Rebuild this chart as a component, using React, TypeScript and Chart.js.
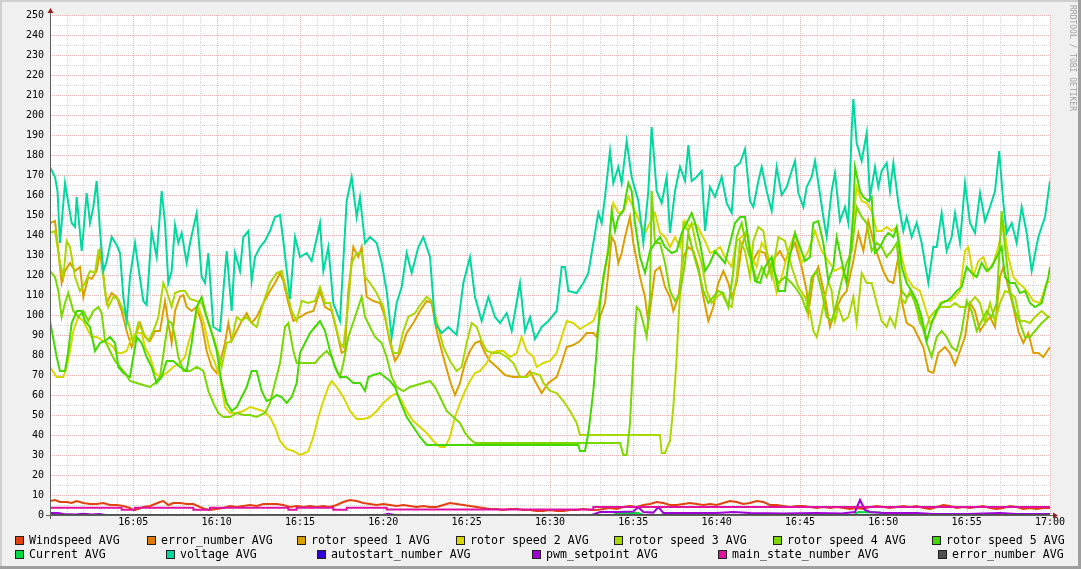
import React, { useEffect, useRef } from "react";
import { Chart, registerables } from "chart.js";
Chart.register(...registerables);

type Pt = [number, number];

// x values are minutes after 16:00
const timeTickLabels = ["", "16:05", "16:10", "16:15", "16:20", "16:25", "16:30", "16:35", "16:40", "16:45", "16:50", "16:55", "17:00"];

const seriesNames = [
  "Windspeed AVG", "error_number AVG", "rotor speed 1 AVG", "rotor speed 2 AVG", "rotor speed 3 AVG",
  "rotor speed 4 AVG", "rotor speed 5 AVG", "Current AVG", "voltage AVG", "autostart_number AVG",
  "pwm_setpoint AVG", "main_state_number AVG", "error_number AVG",
];
const seriesColors = [
  "#e2400e", "#e07800", "#dba000", "#d8d800", "#a8d800",
  "#7ad800", "#44d800", "#00d844", "#00d8a0", "#3300d8",
  "#a000d8", "#e010a0", "#505050",
];

const windspeed: Pt[] = [[0,7],[0.3,7.5],[0.6,6.5],[1,6.5],[1.3,6],[1.6,7],[2,6],[2.4,5.5],[2.8,5.5],[3.2,6],[3.6,5],[4,5],[4.4,4.5],[4.8,3.5],[5,2.5],[5.3,3],[5.6,4],[6,4.5],[6.3,5.5],[6.6,6.5],[6.8,7],[7.1,5],[7.4,6],[7.8,6],[8.2,5.5],[8.6,5.5],[9,4],[9.3,3],[9.6,2.5],[10,3],[10.4,3.5],[10.8,4.5],[11.2,4],[11.6,4.5],[12,5],[12.4,4.5],[12.8,5.5],[13.2,5.5],[13.6,5.5],[14,5],[14.4,4],[14.8,4.5],[15.2,4],[15.6,4.5],[16,4],[16.4,4.5],[16.8,4],[17.2,5],[17.6,6.5],[18,7.5],[18.4,7],[18.8,6],[19.2,5.5],[19.6,5],[20,5.5],[20.4,5],[20.8,4.5],[21.2,5],[21.6,4.5],[22,4],[22.4,4.5],[22.8,4],[23.2,4],[23.6,5],[24,6],[24.4,5.5],[24.8,5],[25.2,4.5],[25.6,4],[26,3.5],[26.4,3],[26.8,3],[27.2,2.5],[27.6,3],[28,3],[28.4,2.5],[28.8,2.5],[29.2,2],[29.6,2],[30,2.5],[30.4,2],[30.8,2],[31.2,2.5],[31.6,2.5],[32,3],[32.4,2.5],[32.8,2.5],[33.2,3],[33.6,3.5],[34,3],[34.4,4],[34.8,4.5],[35.2,4],[35.6,5],[36,5.5],[36.4,6.5],[36.8,6],[37.2,5],[37.6,5],[38,5.5],[38.4,6],[38.8,5.5],[39.2,5],[39.6,5.5],[40,5],[40.4,6],[40.8,7],[41.2,6.5],[41.6,5.5],[42,6],[42.4,7],[42.8,6.5],[43.2,5],[43.6,5],[44,4.5],[44.4,4],[44.8,4.5],[45.2,4.5],[45.6,4],[46,3.5],[46.4,4],[46.8,3.5],[47.2,4],[47.6,3.5],[48,3],[48.4,3.5],[48.8,3],[49.2,4],[49.6,4.5],[50,4],[50.4,3.5],[50.8,4],[51.2,4.5],[51.6,4],[52,4.5],[52.4,3.5],[52.8,3],[53.2,4],[53.6,5],[54,4.5],[54.4,3.5],[54.8,4],[55.2,3.5],[55.6,4],[56,4.5],[56.4,3.5],[56.8,3],[57.2,3.5],[57.6,4.5],[58,4],[58.4,3],[58.8,3.5],[59.2,3],[59.6,3.5],[60,3.5]];

const errorNumberA: Pt[] = [[0,0],[60,0]];

const rotor1: Pt[] = [[0,146],[0.3,147],[0.5,132],[0.7,116],[0.9,122],[1.2,126],[1.5,122],[1.8,124],[2,109],[2.3,119],[2.5,118],[2.8,122],[3,132],[3.2,119],[3.4,106],[3.7,111],[4,109],[4.3,102],[4.6,92],[4.9,84],[5.1,89],[5.4,96],[5.7,89],[6,87],[6.3,92],[6.6,92],[6.9,107],[7.1,96],[7.3,86],[7.5,102],[7.8,109],[8,110],[8.2,104],[8.5,102],[8.8,104],[9.1,96],[9.4,82],[9.7,74],[10,71],[10.2,76],[10.5,86],[10.7,96],[10.9,87],[11.2,92],[11.5,97],[11.8,101],[12.1,96],[12.4,99],[12.8,106],[13.2,112],[13.5,116],[13.8,121],[14,117],[14.3,106],[14.6,97],[15,99],[15.4,101],[15.8,102],[16.2,112],[16.5,104],[16.9,102],[17.2,92],[17.5,81],[17.7,82],[17.9,112],[18.2,134],[18.5,129],[18.7,134],[19,109],[19.4,107],[19.8,106],[20.1,99],[20.4,86],[20.7,77],[21,81],[21.4,91],[21.8,96],[22.2,102],[22.6,107],[22.9,106],[23.2,92],[23.6,79],[24,67],[24.3,60],[24.6,66],[24.9,76],[25.2,82],[25.5,86],[25.8,87],[26.1,81],[26.4,77],[26.8,74],[27.3,70],[27.8,69],[28.2,69],[28.5,69],[28.8,72],[29.1,67],[29.5,61],[29.9,66],[30.4,69],[30.7,76],[31,84],[31.4,85],[31.8,87],[32.2,91],[32.6,91],[32.8,89],[33,99],[33.3,106],[33.5,121],[33.7,139],[33.9,136],[34.1,126],[34.3,131],[34.5,139],[34.8,149],[35,136],[35.4,119],[35.7,109],[35.9,96],[36.1,109],[36.3,122],[36.6,124],[36.9,114],[37.2,109],[37.4,102],[37.7,109],[38,129],[38.3,134],[38.6,132],[38.9,124],[39.2,109],[39.5,97],[39.8,104],[40.1,116],[40.4,122],[40.7,116],[40.9,109],[41.2,116],[41.5,134],[41.8,142],[42.1,126],[42.5,132],[42.9,131],[43.2,122],[43.5,129],[43.8,132],[44.1,127],[44.4,131],[44.7,136],[45.1,124],[45.4,112],[45.5,101],[45.8,119],[46.1,124],[46.5,109],[46.8,94],[47.1,102],[47.5,109],[47.8,112],[48.2,127],[48.5,141],[48.8,132],[49.1,147],[49.4,137],[49.7,129],[50,122],[50.3,117],[50.6,116],[50.9,129],[51.1,107],[51.4,96],[51.8,94],[52.1,89],[52.4,84],[52.7,72],[53,71],[53.3,81],[53.7,84],[54,81],[54.3,75],[54.6,82],[54.9,89],[55.2,106],[55.5,102],[55.8,92],[56.1,96],[56.4,99],[56.7,94],[57,119],[57.2,124],[57.5,114],[57.8,104],[58.1,92],[58.4,86],[58.7,91],[59,81],[59.3,81],[59.6,79],[60,84]];

const rotor2: Pt[] = [[0,74],[0.4,69],[0.8,69],[1,74],[1.2,82],[1.4,92],[1.7,99],[2,97],[2.3,92],[2.5,89],[2.8,89],[3.2,87],[3.5,86],[3.8,84],[4,81],[4.3,81],[4.6,82],[4.9,89],[5.2,91],[5.5,91],[5.7,84],[6,79],[6.3,71],[6.6,69],[7,71],[7.4,74],[7.8,76],[8.1,79],[8.3,86],[8.6,94],[8.9,104],[9.2,97],[9.6,82],[9.9,76],[10.2,69],[10.5,54],[10.8,51],[11.2,51],[11.6,52],[12,54],[12.4,53],[12.8,52],[13.2,49],[13.5,44],[13.8,37],[14.2,33],[14.6,32],[15,30],[15.3,31],[15.5,32],[15.8,39],[16.1,49],[16.4,57],[16.7,64],[16.9,67],[17.2,64],[17.6,59],[18,52],[18.4,48],[18.8,48],[19.2,49],[19.6,52],[20,56],[20.4,59],[20.8,61],[21.1,57],[21.4,52],[21.8,47],[22.2,44],[22.6,41],[23,37],[23.4,34],[23.7,34],[24,39],[24.3,49],[24.6,56],[24.9,62],[25.2,67],[25.5,71],[25.8,72],[26.2,76],[26.5,81],[26.8,82],[27.2,82],[27.6,79],[28,81],[28.3,89],[28.6,82],[29,79],[29.2,74],[29.6,76],[30,77],[30.4,81],[30.7,89],[31,97],[31.4,96],[31.8,93],[32.2,95],[32.6,97],[32.9,104],[33.2,117],[33.5,134],[33.8,156],[34.1,151],[34.4,152],[34.7,159],[35,154],[35.4,146],[35.7,141],[36,146],[36.3,151],[36.6,141],[36.9,139],[37.2,134],[37.5,139],[37.8,134],[38.1,147],[38.4,144],[38.7,146],[39,142],[39.3,137],[39.6,131],[39.9,132],[40.2,134],[40.5,129],[40.9,124],[41.2,137],[41.5,139],[41.8,142],[42.1,129],[42.4,124],[42.7,136],[43,132],[43.3,122],[43.6,111],[43.9,119],[44.3,132],[44.7,141],[45.1,126],[45.5,132],[45.9,142],[46.3,132],[46.7,127],[47.1,122],[47.5,124],[47.8,116],[48.1,139],[48.4,164],[48.7,157],[49,156],[49.3,152],[49.6,142],[49.9,142],[50.2,144],[50.5,142],[50.8,144],[51.1,129],[51.4,119],[51.8,114],[52.2,112],[52.5,104],[52.8,96],[53.1,99],[53.4,106],[53.7,107],[54,107],[54.3,109],[54.6,112],[54.9,132],[55.1,134],[55.4,119],[55.7,127],[56,129],[56.3,122],[56.6,126],[56.9,134],[57.2,146],[57.5,129],[57.8,119],[58.1,116],[58.4,114],[58.7,111],[59,107],[59.4,106],[59.8,116],[60,117]];

const rotor3: Pt[] = [[0,141],[0.3,142],[0.6,126],[0.8,119],[1,137],[1.2,134],[1.5,119],[1.8,112],[2.1,116],[2.4,122],[2.7,121],[2.9,132],[3.1,129],[3.3,112],[3.5,104],[3.8,109],[4.1,108],[4.4,102],[4.7,96],[5,86],[5.3,96],[5.6,91],[5.9,87],[6.2,92],[6.5,99],[6.8,116],[7,112],[7.3,104],[7.5,111],[7.8,112],[8.1,112],[8.4,108],[8.8,107],[9.1,106],[9.4,99],[9.8,89],[10.1,81],[10.3,74],[10.6,86],[10.9,87],[11.2,99],[11.5,97],[11.8,99],[12.1,96],[12.4,94],[12.8,106],[13.2,116],[13.6,121],[13.9,122],[14.2,112],[14.5,102],[14.8,97],[15.1,107],[15.5,106],[15.9,107],[16.2,114],[16.5,106],[16.8,106],[17.1,96],[17.4,86],[17.6,84],[17.9,106],[18.1,126],[18.4,131],[18.7,131],[18.9,119],[19.2,116],[19.6,111],[20,104],[20.3,91],[20.6,81],[20.9,81],[21.2,92],[21.5,99],[21.9,101],[22.3,106],[22.6,109],[22.9,107],[23.2,97],[23.6,84],[24,77],[24.4,72],[24.7,74],[25,86],[25.3,96],[25.6,94],[25.9,87],[26.2,82],[26.6,81],[27,81],[27.4,79],[27.8,76],[28.2,69],[28.6,69],[29,71],[29.4,70],[29.6,66],[30,62],[30.4,61],[30.8,57],[31.2,52],[31.6,46],[31.8,40],[36.6,40],[36.7,31],[36.9,31],[37.2,37],[37.4,54],[37.6,79],[37.7,96],[37.9,124],[38,146],[38.3,142],[38.5,146],[38.8,134],[39.1,126],[39.4,112],[39.7,106],[40,109],[40.3,111],[40.6,106],[40.9,104],[41.2,119],[41.4,137],[41.7,132],[42,119],[42.2,137],[42.5,144],[42.8,142],[43,132],[43.3,119],[43.7,139],[44.1,137],[44.5,124],[44.9,114],[45.3,109],[45.6,102],[45.8,92],[46,89],[46.2,96],[46.5,109],[46.7,117],[46.9,112],[47.1,97],[47.3,104],[47.6,97],[47.9,99],[48.2,109],[48.4,96],[48.7,121],[49,116],[49.3,116],[49.6,106],[49.9,97],[50.2,94],[50.4,99],[50.7,94],[51,109],[51.3,106],[51.6,112],[51.9,106],[52.2,96],[52.5,92],[52.8,99],[53.1,102],[53.4,104],[53.7,104],[54,104],[54.3,106],[54.6,104],[54.9,104],[55.2,106],[55.5,109],[55.8,106],[56.1,96],[56.4,106],[56.7,97],[57,106],[57.3,112],[57.6,111],[57.9,109],[58.2,97],[58.5,97],[58.8,96],[59.1,99],[59.5,102],[59.9,99],[60,99]];

const rotor4: Pt[] = [[0,122],[0.3,119],[0.5,112],[0.7,99],[0.9,106],[1.1,111],[1.4,102],[1.7,99],[2,102],[2.3,97],[2.6,102],[2.9,104],[3.1,101],[3.3,87],[3.6,82],[3.9,77],[4.2,74],[4.5,71],[4.8,67],[5.2,66],[5.6,65],[6,64],[6.3,66],[6.6,69],[6.9,86],[7.1,97],[7.3,96],[7.5,89],[7.7,79],[8,72],[8.4,72],[8.8,74],[9.2,72],[9.5,62],[9.8,56],[10.1,51],[10.4,49],[10.8,49],[11.2,51],[11.6,50],[12,50],[12.4,49],[12.9,51],[13.2,56],[13.5,66],[13.8,76],[14.1,94],[14.3,96],[14.6,82],[14.8,76],[15.1,76],[15.5,76],[15.9,76],[16.2,79],[16.6,82],[16.9,79],[17.2,72],[17.4,69],[17.6,76],[17.9,89],[18.3,99],[18.7,109],[18.9,99],[19.2,94],[19.5,89],[19.9,86],[20.2,79],[20.5,69],[20.8,64],[21.2,62],[21.6,64],[22,65],[22.4,66],[22.8,67],[23.1,64],[23.4,59],[23.8,52],[24.2,49],[24.6,46],[24.9,41],[25.2,38],[25.5,36],[34.2,36],[34.4,30],[34.6,30],[34.8,46],[35,79],[35.2,104],[35.4,102],[35.6,96],[35.8,89],[36,109],[36.1,162],[36.3,136],[36.6,136],[36.9,126],[37.2,112],[37.5,107],[37.8,111],[38.1,126],[38.3,141],[38.6,131],[38.9,122],[39.2,112],[39.5,106],[39.8,109],[40.1,112],[40.4,111],[40.7,104],[41,122],[41.2,139],[41.5,146],[41.8,134],[42.1,126],[42.4,117],[42.7,124],[43,119],[43.3,126],[43.7,116],[44.1,119],[44.5,116],[44.7,114],[45.1,109],[45.4,102],[45.7,119],[46,122],[46.3,112],[46.6,99],[46.9,97],[47.2,106],[47.5,117],[47.8,126],[48.1,132],[48.4,154],[48.7,149],[49,146],[49.3,132],[49.6,136],[49.9,134],[50.2,129],[50.5,132],[50.8,136],[51.1,112],[51.4,109],[51.7,111],[52,104],[52.3,96],[52.6,86],[52.9,79],[53.2,89],[53.5,92],[53.8,89],[54.1,84],[54.4,82],[54.7,92],[55,107],[55.3,102],[55.6,92],[55.9,97],[56.2,102],[56.5,99],[56.8,106],[57.1,152],[57.3,134],[57.6,112],[57.9,102],[58.2,96],[58.5,89],[58.8,89],[59.1,92],[59.5,96],[59.9,99],[60,99]];

const rotor5: Pt[] = [[0,97],[0.4,79],[0.6,72],[0.9,72],[1.1,82],[1.3,96],[1.6,102],[1.9,102],[2.1,97],[2.4,94],[2.7,82],[3,86],[3.3,87],[3.6,89],[3.9,86],[4.1,74],[4.4,71],[4.8,69],[5,79],[5.2,89],[5.5,86],[5.8,79],[6.1,74],[6.4,66],[6.7,69],[7,77],[7.4,77],[7.8,74],[8.2,72],[8.5,86],[8.8,104],[9.1,109],[9.4,99],[9.7,91],[10,82],[10.3,66],[10.6,56],[10.9,52],[11.2,54],[11.5,59],[11.8,64],[12.1,72],[12.4,72],[12.7,62],[13,57],[13.3,58],[13.6,60],[13.9,59],[14.2,56],[14.5,59],[14.8,66],[15,81],[15.3,86],[15.6,91],[15.9,94],[16.2,97],[16.5,92],[16.8,82],[17.1,74],[17.4,69],[17.8,69],[18.2,66],[18.6,66],[18.9,62],[19.1,69],[19.4,70],[19.8,71],[20.1,69],[20.4,67],[20.7,64],[21,57],[21.4,49],[21.8,44],[22.2,39],[22.6,35],[31.7,35],[31.8,32],[32.1,32],[32.3,41],[32.6,62],[32.8,82],[33,106],[33.2,119],[33.5,132],[33.7,152],[33.9,142],[34.1,149],[34.4,152],[34.7,166],[34.9,162],[35.1,146],[35.4,129],[35.7,121],[36,132],[36.3,136],[36.6,139],[36.9,134],[37.3,131],[37.6,132],[37.9,141],[38.2,146],[38.5,151],[38.7,146],[39,136],[39.3,122],[39.6,126],[39.9,132],[40.2,129],[40.5,126],[40.8,136],[41.1,146],[41.4,149],[41.7,149],[42,132],[42.3,117],[42.6,116],[42.9,124],[43.3,129],[43.7,112],[44.1,112],[44.3,126],[44.7,141],[45,134],[45.3,127],[45.6,129],[45.8,146],[46.1,147],[46.4,136],[46.7,117],[47,124],[47.2,139],[47.5,127],[47.8,116],[48,129],[48.2,152],[48.3,174],[48.6,162],[48.8,159],[49.1,157],[49.3,159],[49.5,131],[49.8,134],[50.1,139],[50.3,141],[50.6,139],[50.8,144],[51.1,124],[51.4,116],[51.7,112],[52,107],[52.3,99],[52.6,87],[52.9,96],[53.2,102],[53.5,106],[53.8,107],[54.1,109],[54.4,112],[54.7,114],[55,124],[55.3,121],[55.6,119],[55.9,126],[56.2,122],[56.5,124],[56.8,129],[57.1,134],[57.3,119],[57.6,116],[57.9,116],[58.2,111],[58.5,112],[58.8,106],[59.1,104],[59.5,106],[59.9,119],[60,124]];

const current: Pt[] = [[0,0],[33.8,0],[34.1,1],[35.3,1],[35.6,0],[48.2,0],[48.5,1.5],[49.8,1.2],[50.2,0],[56.8,0],[57,0.5],[57.3,0],[60,0]];

const voltage: Pt[] = [[0,174],[0.3,169],[0.45,162],[0.6,136],[0.9,166],[1.1,156],[1.3,146],[1.5,144],[1.6,159],[1.9,132],[2,141],[2.2,161],[2.4,146],[2.6,154],[2.8,167],[3,142],[3.2,122],[3.4,127],[3.7,139],[4,135],[4.2,131],[4.4,109],[4.6,97],[4.8,119],[5.1,136],[5.3,124],[5.6,107],[5.8,105],[6.1,142],[6.4,129],[6.7,162],[6.9,146],[7.1,116],[7.3,122],[7.5,145],[7.7,136],[7.9,141],[8.2,126],[8.4,136],[8.8,151],[9.1,119],[9.3,116],[9.5,131],[9.8,94],[10.2,92],[10.4,112],[10.6,132],[10.9,102],[11.1,131],[11.4,122],[11.6,139],[11.9,142],[12.1,117],[12.3,129],[12.6,134],[12.9,137],[13.2,142],[13.5,149],[13.8,150],[14,137],[14.4,108],[14.7,139],[15,129],[15.4,131],[15.7,127],[16.2,146],[16.4,122],[16.7,134],[17,106],[17.4,97],[17.8,157],[18.1,169],[18.4,149],[18.6,159],[18.9,136],[19.2,139],[19.6,136],[19.9,126],[20.2,112],[20.5,89],[20.8,106],[21.1,114],[21.4,131],[21.7,121],[22.1,134],[22.4,139],[22.8,129],[23.1,96],[23.5,91],[23.9,94],[24.4,90],[24.8,116],[25.2,129],[25.5,109],[25.9,97],[26.3,109],[26.7,99],[27,96],[27.4,101],[27.7,92],[28.2,116],[28.5,92],[28.8,99],[29.1,88],[29.5,94],[29.9,97],[30.4,102],[30.7,124],[30.9,124],[31.1,112],[31.6,111],[32,116],[32.3,121],[32.6,136],[32.9,151],[33.1,146],[33.3,159],[33.6,182],[33.8,166],[34.1,174],[34.3,166],[34.6,187],[34.9,169],[35.3,157],[35.6,136],[35.9,162],[36.1,194],[36.4,162],[36.7,156],[37,169],[37.2,141],[37.5,162],[37.8,174],[38.1,167],[38.3,185],[38.5,167],[38.8,169],[39.1,172],[39.3,142],[39.6,164],[39.9,159],[40.3,169],[40.6,156],[40.9,151],[41.1,174],[41.4,176],[41.7,183],[42,157],[42.2,154],[42.5,167],[42.7,174],[43,162],[43.3,152],[43.6,174],[43.9,160],[44.2,164],[44.5,172],[44.7,177],[44.9,161],[45.2,154],[45.4,164],[45.7,169],[45.9,177],[46.1,166],[46.4,149],[46.6,139],[46.9,162],[47.1,171],[47.4,147],[47.7,154],[47.9,146],[48.1,192],[48.2,208],[48.4,186],[48.7,177],[49,191],[49.2,159],[49.5,174],[49.7,164],[49.9,172],[50.2,176],[50.4,162],[50.6,176],[50.9,156],[51.2,142],[51.4,149],[51.7,139],[52,146],[52.3,136],[52.7,116],[53,134],[53.2,134],[53.5,151],[53.8,132],[54.1,139],[54.3,151],[54.6,136],[54.9,166],[55.2,146],[55.5,141],[55.8,161],[56.1,147],[56.4,154],[56.7,162],[56.95,182],[57.2,156],[57.4,141],[57.7,146],[58,136],[58.3,154],[58.6,141],[58.9,122],[59.3,139],[59.7,149],[60,167]];

const autostart: Pt[] = [[0,0],[60,0]];

const pwmSetpoint: Pt[] = [[0,1],[0.5,1],[0.8,0.5],[1.5,0.3],[2,0.6],[2.5,0.2],[3,0.5],[3.3,0],[20,0],[20.3,0.6],[20.7,0],[32.5,0],[33,1.5],[34,1.5],[35,1.8],[35.3,4],[35.6,1.5],[36.2,1.2],[36.5,4],[36.8,1],[38,1],[40,1],[41,1.5],[42,1],[44,0.8],[46,1],[47.5,0.8],[48.3,1.5],[48.6,7.5],[48.9,2.5],[49.2,1.5],[50,1],[52,1],[53,0.5],[55,0.5],[57,1],[58,0.5],[60,0.5]];

const mainState: Pt[] = [[0,3.6],[4.3,3.6],[4.3,2.6],[5.1,2.6],[5.1,3.6],[8.6,3.6],[8.6,2.6],[9.6,2.6],[9.6,3.6],[14.3,3.6],[14.3,2.6],[14.8,2.6],[14.8,3.6],[17,3.6],[17,2.6],[17.8,2.6],[17.8,3.6],[20.2,3.6],[20.2,2.8],[32.6,2.8],[32.6,4],[60,4]];

const errorNumberB: Pt[] = [[0,0],[60,0]];

const seriesData: Pt[][] = [windspeed, errorNumberA, rotor1, rotor2, rotor3, rotor4, rotor5, current, voltage, autostart, pwmSetpoint, mainState, errorNumberB];

// legend layout (pixel positions of swatches)
const legendRow1X = [15, 147, 297, 456, 614, 773, 932];
const legendRow2X = [15, 166, 317, 532, 718, 938];

const MONO = "'DejaVu Sans Mono', monospace";

const rrdPlugin = {
  id: "rrdFrame",
  beforeDraw(chart: any) {
    const { ctx, width, height, chartArea: a } = chart;
    ctx.save();
    ctx.fillStyle = "#f0f0f0";
    ctx.fillRect(0, 0, width, height);
    ctx.fillStyle = "#cfcfcf";
    ctx.fillRect(0, 0, width, 2);
    ctx.fillRect(0, 0, 2, height);
    ctx.fillStyle = "#9e9e9e";
    ctx.fillRect(width - 3, 0, 3, height);
    ctx.fillRect(0, height - 3, width, 3);
    ctx.fillStyle = "#ffffff";
    ctx.fillRect(a.left, a.top, a.right - a.left, a.bottom - a.top);
    ctx.restore();
  },
  beforeDatasetsDraw(chart: any) {
    const { ctx, chartArea: a, scales } = chart;
    const xs = scales.x, ys = scales.y;
    ctx.save();
    ctx.lineWidth = 1;
    ctx.setLineDash([1, 1]);
    for (let v = 5; v <= 250; v += 5) {
      const y = Math.round(ys.getPixelForValue(v)) + 0.5;
      ctx.strokeStyle = v % 10 === 0 ? "#ecb2b2" : "#d6d6d6";
      ctx.beginPath();
      ctx.moveTo(a.left, y);
      ctx.lineTo(a.right, y);
      ctx.stroke();
    }
    for (let m = 1; m <= 60; m += 1) {
      const x = Math.round(xs.getPixelForValue(m)) + 0.5;
      ctx.strokeStyle = m % 5 === 0 ? "#ecb2b2" : "#d6d6d6";
      ctx.beginPath();
      ctx.moveTo(x, a.top);
      ctx.lineTo(x, a.bottom);
      ctx.stroke();
    }
    ctx.restore();
  },
  afterDatasetsDraw(chart: any) {
    const { ctx, chartArea: a } = chart;
    ctx.save();
    ctx.setLineDash([]);
    ctx.strokeStyle = "#606060";
    ctx.lineWidth = 1;
    const lx = Math.round(a.left) + 0.5;
    const by = Math.round(a.bottom) + 0.5;
    ctx.beginPath();
    ctx.moveTo(lx, a.bottom + 4);
    ctx.lineTo(lx, a.top - 3);
    ctx.moveTo(a.left - 4, by);
    ctx.lineTo(a.right + 4, by);
    ctx.stroke();
    ctx.fillStyle = "#9a1c1c";
    ctx.beginPath();
    ctx.moveTo(lx, a.top - 7);
    ctx.lineTo(lx - 3, a.top - 2);
    ctx.lineTo(lx + 3, a.top - 2);
    ctx.closePath();
    ctx.fill();
    ctx.beginPath();
    ctx.moveTo(a.right + 8, by);
    ctx.lineTo(a.right + 3, by - 3);
    ctx.lineTo(a.right + 3, by + 3);
    ctx.closePath();
    ctx.fill();
    ctx.restore();
  },
  afterDraw(chart: any) {
    const { ctx, width } = chart;
    ctx.save();
    ctx.font = `11.6px ${MONO}`;
    ctx.textBaseline = "middle";
    ctx.textAlign = "left";
    const rows = [legendRow1X, legendRow2X];
    const rowY = [541, 555];
    let idx = 0;
    rows.forEach((xsRow, r) => {
      xsRow.forEach((x) => {
        const cy = rowY[r];
        ctx.fillStyle = seriesColors[idx];
        ctx.fillRect(x, cy - 5, 9, 9);
        ctx.strokeStyle = "#202020";
        ctx.lineWidth = 1;
        ctx.strokeRect(x + 0.5, cy - 4.5, 8, 8);
        ctx.fillStyle = "#000000";
        ctx.fillText(seriesNames[idx], x + 14, cy);
        idx++;
      });
    });
    // watermark
    ctx.translate(width - 9, 5);
    ctx.rotate(Math.PI / 2);
    ctx.font = `8px ${MONO}`;
    ctx.fillStyle = "#a0a0a0";
    ctx.textBaseline = "middle";
    ctx.fillText("RRDTOOL / TOBI OETIKER", 0, 0);
    ctx.restore();
  },
};

export default function App() {
  const ref = useRef<HTMLCanvasElement>(null);
  useEffect(() => {
    document.body.style.margin = "0";
    const n = seriesData.length;
    const datasets = seriesData.map((pts, i) => ({
      label: seriesNames[i],
      data: pts.map(([x, y]) => ({ x, y })),
      borderColor: seriesColors[i],
      backgroundColor: seriesColors[i],
      borderWidth: 2,
      pointRadius: 0,
      tension: 0,
      fill: false,
      order: n - i,
    }));
    const chart = new Chart(ref.current as HTMLCanvasElement, {
      type: "line",
      data: { datasets },
      options: {
        animation: false,
        responsive: false,
        maintainAspectRatio: false,
        events: [],
        layout: { padding: { left: 0, right: 31, top: 15, bottom: 34 } },
        plugins: { legend: { display: false }, tooltip: { enabled: false } },
        scales: {
          x: {
            type: "linear",
            min: 0,
            max: 60,
            grid: { display: false, drawTicks: false },
            border: { display: false },
            ticks: {
              stepSize: 5,
              autoSkip: false,
              maxRotation: 0,
              minRotation: 0,
              padding: 1,
              color: "#000000",
              font: { family: MONO, size: 10 },
              callback: (v: any) => timeTickLabels[Math.round(Number(v) / 5)] ?? "",
            },
            afterFit: (s: any) => { s.height = 20; },
          },
          y: {
            type: "linear",
            min: 0,
            max: 250,
            grid: { display: false, drawTicks: false },
            border: { display: false },
            ticks: {
              stepSize: 10,
              padding: 6,
              color: "#000000",
              font: { family: MONO, size: 10 },
            },
            afterFit: (s: any) => { s.width = 50; },
          },
        },
      },
      plugins: [rrdPlugin],
    } as any);
    return () => chart.destroy();
  }, []);
  return (
    <canvas ref={ref} width={1081} height={569} style={{ display: "block", width: 1081, height: 569 }} />
  );
}
